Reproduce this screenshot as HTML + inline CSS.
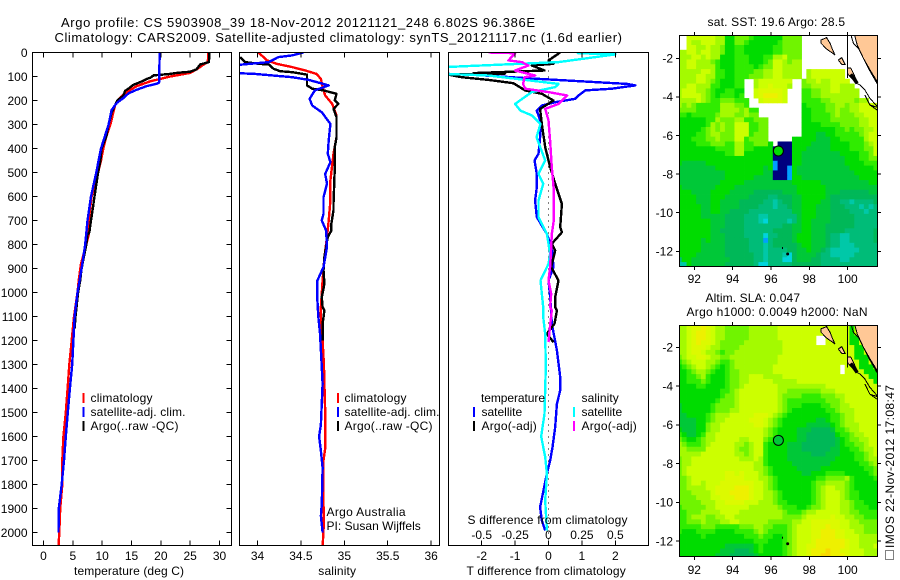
<!DOCTYPE html>
<html lang="en">
<head>
<meta charset="utf-8">
<title>Argo profile CS 5903908_39</title>
<style>
html,body{margin:0;padding:0;background:#fff;width:900px;height:580px;overflow:hidden}
svg{display:block}
text{font-family:"Liberation Sans",Arial,sans-serif;font-size:12px;fill:#000}
.ttl{font-size:13px}
</style>
</head>
<body>
<svg id="fig" xmlns="http://www.w3.org/2000/svg" width="900" height="580" viewBox="0 0 900 580">
<defs>
<clipPath id="clipTemp"><rect x="32.5" y="52.5" width="199" height="493"/></clipPath>
<clipPath id="clipSal"><rect x="239.5" y="52.5" width="200" height="493"/></clipPath>
<clipPath id="clipDiff"><rect x="448.5" y="52.5" width="200" height="493"/></clipPath>
<clipPath id="clipSst"><rect x="679.5" y="35.5" width="198" height="231"/></clipPath>
<clipPath id="clipSla"><rect x="679.5" y="325.5" width="198" height="231"/></clipPath>
</defs>
<text class="ttl" x="61" y="27" textLength="474">Argo profile: CS 5903908_39 18-Nov-2012 20121121_248 6.802S 96.386E</text>
<text class="ttl" x="54.5" y="42" textLength="567.5">Climatology: CARS2009. Satellite-adjusted climatology: synTS_20121117.nc (1.6d earlier)</text>

<g id="mapSst"></g>
<g id="mapSla"></g>
<g id="panelTemp"></g>
<g id="panelSal"></g>
<g id="panelDiff"></g>

<g>
<rect x="82.5" y="393" width="2" height="10" fill="#f00"/>
<rect x="82.5" y="407" width="2" height="10" fill="#00f"/>
<rect x="82.5" y="421" width="2" height="10" fill="#000"/>
<text x="90.5" y="402" textLength="62">climatology</text>
<text x="90.5" y="416" textLength="95">satellite-adj. clim.</text>
<text x="90.5" y="430" textLength="88">Argo(..raw -QC)</text>
</g>
<g>
<rect x="337" y="393" width="2" height="10" fill="#f00"/>
<rect x="337" y="407" width="2" height="10" fill="#00f"/>
<rect x="337" y="421" width="2" height="10" fill="#000"/>
<text x="344.5" y="402" textLength="62">climatology</text>
<text x="344.5" y="416" textLength="95">satellite-adj. clim.</text>
<text x="344.5" y="430" textLength="88">Argo(..raw -QC)</text>
<text x="326.5" y="516" textLength="79">Argo Australia</text>
<text x="326.5" y="530" textLength="94.3">PI: Susan Wijffels</text>
</g>
<g>
<text x="481" y="402" textLength="64">temperature</text>
<rect x="473" y="407" width="2" height="10" fill="#00f"/>
<rect x="473" y="421" width="2" height="10" fill="#000"/>
<text x="481.5" y="416" textLength="40.7">satellite</text>
<text x="481.5" y="430" textLength="55.3">Argo(-adj)</text>
<text x="581.5" y="402" textLength="37.3">salinity</text>
<rect x="573" y="407" width="2" height="10" fill="#0ff"/>
<rect x="573" y="421" width="2" height="10" fill="#f0f"/>
<text x="581.5" y="416" textLength="40.7">satellite</text>
<text x="581.5" y="430" textLength="55.3">Argo(-adj)</text>
<text x="467.5" y="524" textLength="160">S difference from climatology</text>
<text x="466.5" y="575" textLength="159.3">T difference from climatology</text>
</g>
<text x="74" y="575" textLength="110">temperature (deg C)</text>
<text x="318.3" y="575" textLength="37.7">salinity</text>

<text x="707.5" y="26" textLength="137.5">sat. SST: 19.6 Argo: 28.5</text>
<text x="705.5" y="302" textLength="94.5">Altim. SLA: 0.047</text>
<text x="686.5" y="316" textLength="181">Argo h1000: 0.0049 h2000: NaN</text>

<rect x="885.5" y="550.5" width="8" height="9" fill="none" stroke="#000" stroke-width="1" stroke-dasharray="1 1"/>
<text transform="translate(894 548) rotate(-90)" x="0" y="0" textLength="163">IMOS 22-Nov-2012 17:08:47</text>
</svg>

<script>
// ---------- tick values ----------
const depthTicks = [0,100,200,300,400,500,600,700,800,900,1000,1100,1200,1300,1400,1500,1600,1700,1800,1900,2000];
const tempTicks = [0,5,10,15,20,25,30];
const salTicks = [34,34.5,35,35.5,36];
const tDiffTicks = [-2,-1,0,1,2];
const sDiffTicks = [-0.5,-0.25,0,0.25,0.5];
const lonTicks = [92,94,96,98,100];
const latTicks = [-2,-4,-6,-8,-10,-12];

// ---------- temperature panel ----------
const climTempDepth = [0,40,50,70,85,100,110,120,140,160,180,200,220,250,300,350,400,450,500,600,700,760,800,880,950,1000,1100,1200,1300,1400,1500,1600,1700,1800,1900,2000,2060];
const climTemp = [28.1,28,27.3,26.1,25,21.6,19.9,18.2,15.9,14.5,13.4,12.6,12.2,11.9,11.4,10.7,10.2,9.8,9.3,8.2,7.7,7.7,7.3,6.4,6,5.8,5.2,4.8,4.4,4.1,3.8,3.4,3.2,3.2,2.85,2.7,2.55];
const argoTempDepth = [0,40,50,70,80,85,90,95,105,110,120,135,150,160,180,200,220,250,300,350,400,450,500,550,600,650,700,750,760,800,900,950,1000,1100,1150];
const argoTemp = [28.3,28.2,26.7,26.1,25,22.7,21.3,18.8,18.2,17.6,16.8,15.3,14.5,13.9,13.6,12.6,12.2,11.6,11.1,10.7,9.9,9.7,9.3,9,8.7,8.4,8.1,7.8,7.5,7.3,6.5,6.25,5.9,5.45,5.3];
const satTempDepth = [0,125,130,140,155,170,190,210,240,300,400,450,500,600,700,800,900,1000,1100,1200,1300,1400,1500,1600,1700,1800,1900,2000];
const satTemp = [19.8,19.7,19.3,17.6,15.9,14.5,13.6,12.5,11.6,11.1,9.8,9.4,9,8.1,7.5,7.1,6.5,5.8,5.3,5.1,4.9,4.5,4.15,3.8,3.5,3.1,2.6,2.55];

// ---------- salinity panel ----------
const climSalDepth = [0,33,47,61,75,89,110,144,179,214,262,353,422,533,617,700,769,853,950,1061,1100,1200,1300,1500,1650,1700,1880,1960,2060];
const climSal = [34.01,34.11,34.22,34.4,34.55,34.68,34.73,34.75,34.78,34.86,34.91,34.91,34.875,34.84,34.84,34.82,34.8,34.77,34.75,34.73,34.73,34.75,34.765,34.78,34.78,34.76,34.76,34.765,34.75];
const argoSalDepth = [19,40,47,50,68,78,82,92,137,151,158,172,200,214,235,269,353,394,478,630,658,714,742,769,785,853,908,964,1019,1061,1075,1130,1200];
const argoSal = [33.8,33.86,34.01,34.13,34.185,34.26,34.4,34.57,34.57,34.63,34.76,34.91,34.89,34.93,34.875,34.91,34.91,34.89,34.89,34.875,34.875,34.85,34.85,34.81,34.8,34.77,34.76,34.77,34.74,34.75,34.77,34.75,34.75];
const satSalDepth = [0,12,19,40,54,85,89,103,114,137,158,193,221,249,297,367,422,457,506,547,603,672,700,742,811,894,950,1033,1100,1170,1240,1380,1550,1600,1660,1730,1880,1930,2000];
const satSal = [34.53,34.4,34.24,34.13,33.7,33.7,33.97,34.4,34.59,34.82,34.66,34.6,34.63,34.74,34.84,34.82,34.81,34.84,34.78,34.8,34.76,34.76,34.74,34.79,34.8,34.76,34.69,34.69,34.7,34.72,34.73,34.75,34.73,34.71,34.73,34.75,34.74,34.73,34.75];

// ---------- difference panel ----------
const satTDiffDepth = [89,94,107,124,131,137,151,158,179,193,207,221,242,283,353,422,450,506,561,617,686,721,756,811,894,950,1019,1130,1241,1352,1408,1464,1561,1644,1700,1756,1825,1894,1950,1992];
const satTDiff = [-3,-2.1,-0.65,1.5,2.35,2.6,1.9,1.1,0.9,0.8,0.2,-0.2,-0.35,-0.25,-0.25,-0.3,-0.42,-0.35,-0.35,-0.4,-0.35,-0.2,-0.05,0.1,0.15,0,0.05,0.1,0.25,0.35,0.35,0.25,0.2,0.12,0.05,-0.05,-0.15,-0.25,-0.2,-0.1];
const argoTDiffDepth = [0,33,47,54,75,86,88,92,103,114,128,158,172,200,235,297,394,478,547,631,728,749,797,825,894,950,1019,1061,1075,1130,1172,1207];
const argoTDiff = [0.35,0,0.15,-0.5,-0.12,-2.25,-1.3,-3,-2.6,-1.8,-1.05,-0.7,-0.2,0.15,-0.25,-0.2,-0.1,0.05,0.2,0.4,0.35,0.4,0.1,0.2,0.08,0.3,0.2,0.2,0.25,0.18,-0.05,0.15];
const satSDiffDepth = [0,3,8,40,61,89,96,131,144,165,214,242,262,297,353,450,506,547,617,686,756,839,881,950,1061,1102,1172,1311,1505,1600,1686,1756,1867,1992];
const satSDiff = [0.51,0.22,0.5,0.075,-0.78,-0.78,-0.45,0.075,0.05,-0.125,-0.25,-0.21,-0.125,-0.06,-0.09,-0.025,-0.075,-0.04,-0.075,-0.075,-0.012,0.012,0,-0.06,-0.04,-0.04,-0.025,-0.02,-0.03,-0.055,-0.025,-0.012,-0.025,-0.012];
const argoSDiffDepth = [0,3,33,40,54,75,96,103,131,151,165,179,214,235,283,367,478,575,700,756,811,894,950,1006,1061,1075,1137,1207];
const argoSDiff = [-0.45,-0.25,-0.3,-0.2,-0.15,-0.25,-0.1,-0.18,-0.19,-0.175,0,0.14,0.075,-0.025,0,0.012,0.025,0.04,0.04,0.025,0.02,0.012,0,0.02,0.012,0.025,0.012,0];

// ---------- maps: one character per 0.25 degree cell (0-9,a-e = level, . = no data) ----------
const sstRows = [
"..bbbb bbaa77 999877 777799 99.... ...... ......",
"..baab bbaa77 998777 777899 99.... ...... ......",
"..bbaa baa977 887777 778899 99.... ...... ......",
"aabbab baa977 887777 778899 99.... ...... ......",
"aaabba baa777 888777 88aab9 99.... ...... ......",
"aabbaa a98777 888777 89bba9 aa.... ...... ......",
"aabbaa aa8777 888878 99bbaa aa.... ...... ......",
"aaaaab ba8877 888899 aabbaa aa.abb bbbbb. ......",
"aaaabb aa8877 888999 aabbaa aa.abb bbbbb. ......",
"aaaabb a98777 88..ab bbbbbb ..9aab aabbbb ......",
"aabbaa a88777 88..ab bcbbba ..99aa aabbaa a.....",
"abbbaa 987788 77..bc ccccb. ..8899 aabbaa aa....",
"abbbba 987888 78..bc dddcb. ..8899 aaaaaa aa....",
"aaaaba 988999 888..b ccccb. ..8888 99aaaa a9aa..",
"a9a988 888aaa 998... ...... ..7888 899aa9 aabbbb",
"999988 888aaa a9a88. ...... ..7788 899a99 aabbbb",
"887888 889aaa 99a99. ...... ..7788 889a99 9aabbb",
"777777 88a999 aa8899 9..... ..7788 889999 99aabb",
"777777 8a9a99 bbb889 9..... ..7777 888899 99aabb",
"777778 9a9a99 bbb889 9..... ..7777 777889 899aab",
"777788 9aa999 bbb899 9..... ..7776 677888 889abb",
"777888 99a999 bb8999 9..... 777776 667788 888abb",
"777788 899988 aa8899 97.000 777766 667777 8889ab",
"777777 778888 aa8877 770000 777666 667777 88899b",
"777777 777788 aa7777 770000 776666 666677 77889b",
"777777 777777 777777 770000 776666 666667 778899",
"766666 777777 777777 771000 776666 666667 777888",
"666666 667777 777777 671001 766666 666666 777778",
"666666 666677 777777 660001 766666 666666 677777",
"666666 666677 777766 660001 776666 666666 667777",
"666666 666777 776666 666666 777777 666666 666677",
"766666 667777 666666 666666 677777 766666 666666",
"777666 677776 666655 555566 677777 766655 555566",
"777766 677766 666555 544555 667777 765555 555555",
"777766 677666 655555 443455 667777 665544 344445",
"777776 677666 655554 443445 667776 665554 443434",
"777776 677665 555444 444444 667776 665555 444344",
"777776 666655 554443 344444 467776 665555 544444",
"777777 766655 554443 244443 467766 665555 544444",
"777777 766655 554444 444455 667766 655555 544444",
"777777 766555 554444 445555 667766 655554 444445",
"777777 766655 554444 244555 677766 654433 444445",
"777776 766655 555444 145555 677766 654433 444445",
"777776 666655 555444 345555 567766 654433 344444",
"777776 666655 555444 344445 566766 543333 334444",
"777766 666655 555544 344432 566665 443333 344444",
"477666 666665 555544 344422 566655 444433 444444",
"337666 666655 555542 244444 555555 444444 444444"
];
const slaRows = [
"aabccd cbaa99 999aaa aaabbb bbbbbb bbbbbb 7bbbbb",
"aabcdd cbaa99 999aaa aaabbb bbbbbb bbbbbb 7bbbbb",
"aabcdd cbaa99 999aaa aaabbb bbbbb. .bbbbb 77bbbb",
"aabcdc cba999 99aaaa aaaabb bbbbb. .bbbbb 77bbbb",
"aabccc baa999 9aaaaa aaaabb bbbbbb bbbbbb b77bbb",
"aabccb aa9899 aaaaaa aaaabb bbbbbb bbbbbb b77bbb",
"9abbcc baa99a aaaaaa aaabbb bbbbbb bbbbbb b777bb",
"89abbb aa9889 aaaaaa aaabbb bbbbbb bbbbbb bb77bb",
"789abb a98789 aaaaaa aabbbb bbbbbb bbbb.b bb777b",
"7789aa 987789 9aaaaa aabbbb bbbbbb bbbb.b bbb777",
"77889a 877789 9aabbb aaaabb bbbbbb bbbbbb bbbb77",
"778889 877789 9aabbb bbaaaa abbbbb bbbbbb bbbbb7",
"777788 777789 9abbbb bbbaaa aaaaaa abbbbb bbbbbb",
"777777 777889 abbbbb bbbaa9 999999 aaabbb bbbbbb",
"777777 777899 abbbbb bbba99 998888 999aab bbbbbb",
"777777 778999 abbbbb bbba98 888888 8999ab bbbbbb",
"677777 789999 abbbbb bbba98 887777 8899aa bbbbbb",
"677777 78999a abbbbb bbba98 777777 7889aa abbbbb",
"667777 89aaab bbbbcc cba987 777777 77889a abbbbb",
"666677 89aabb bbbccc ba9877 777776 67889a abbbbb",
"666677 9aabbb bbbbcc ba9877 777666 66789a aabbbb",
"766677 9aabbb bbbbbb a98777 766655 556889 aabbbb",
"876678 aabbbb bbbbbb a98777 766555 555788 9aabbb",
"987789 aabbbb baabbb 987777 766555 555678 99aabb",
"a98889 abbbbb aa9abb 877776 665555 555678 899abb",
"aa9999 bbbbbb a99abb 877776 665555 556677 889aab",
"aaaaab bbbbbb aa9abb 877776 666655 566677 7889ab",
"9aabbb bbbbbb baaaba 877776 666666 666777 7889aa",
"9aabbb bbbbbb bbbbaa 877777 666666 667777 77889a",
"9abbbb bbbbbb bbbbaa 987777 766666 777777 777889",
"9abbbb bbbbcc bcbbba 987777 776677 788887 777789",
"99abbb bbbbcc ccbbba a98777 777778 89999a 877778",
"99abba bbbccc ccccbb a98777 777789 9aaaa9 877777",
"99aaaa bbcccc dddcbb a98777 777789 abbaa9 877777",
"999aaa abcccd dddcbb aa9877 777789 abbba9 887777",
"9999aa abbccc dddcbb aa9877 777789 abbba9 887777",
"99999a aabbcc ccbbba aa9887 777789 abbbaa 988777",
"899999 aabbbb bbbaaa aaa988 877899 abbbaa 988877",
"88999a aaabbb baaaaa aaaa98 889aab bbbbaa 998888",
"889aaa 99aabb aaaaaa aaaa99 99abbb bbcbba a99888",
"88999a 999aab baaaaa a99999 aabbcc ccccbb aa9999",
"888889 998888 8999aa 998889 abbbcc cdccbb aaa999",
"877788 887777 88889a 988889 abbbcc dddccb baa999",
"777778 777777 778889 887789 abbbcc dddccb bbaaaa",
"777777 777777 777788 877789 abbbcd dddddc bbaaaa",
"777777 777766 666678 777789 abbccd dddddc bbaaab",
"777777 777666 555678 777789 abbcdd deddcc bbbaaa",
"777777 776665 555567 777789 abbcdd eedddc bbbaaa"
];
const levelColors = ["#00007f","#00a0ff","#00d4dc","#00c8a8","#00bc78","#00b858","#00c838","#00dc00","#30ec00","#70f400","#a4fa00","#ccff00","#dcfa00","#eef000","#f8d800"];

// ---------- coast geometry, degrees ----------
const landLon = [100.35,101.6,101.6,101.17,100.82,100.5];
const landLat = [-0.75,-0.75,-3.3,-2.61,-2,-1.31];
const coastOuterLon = [100.16,100.3,100.56,100.82,101.08,101.6];
const coastOuterLat = [-0.75,-1.22,-1.48,-2,-2.52,-3.42];
const coastLoopLon = [100.38,100.64,100.9,101.16,101.6,101.16,100.9];
const coastLoopLat = [-3.25,-3.38,-3.64,-4.07,-4.56,-4.42,-3.9];
const coastLoop2Lon = [101.16,101.6];
const coastLoop2Lat = [-4.42,-4.72];
const island1Lon = [98.61,98.9,99.08,99.22,99.34,99.22,98.9,98.61];
const island1Lat = [-1.05,-0.93,-1.22,-1.57,-1.83,-1.74,-1.52,-1.22];
const island2Lon = [99.51,99.69,99.86,99.69];
const island2Lat = [-2.09,-1.97,-2.31,-2.31];
const island3Lon = [99.98,100.16,100.3,100.5,100.21,99.98];
const island3Lat = [-2.52,-2.49,-2.78,-3.21,-3.04,-2.78];
const blobLon = [100.16,100.5];
const blobLat = [-2.83,-3.3];
const meridianLon = [100,100];
const meridianLat = [-0.75,-3.03];
const cocosLon = [96.87,96.6];
const cocosLat = [-12.14,-11.83];
const profileLon = 96.386;
const profileLat = -6.802;

// ---------- axis functions ----------
const yDepth = d => 52.5 + d * 0.24;
const xTemp = t => 43.5 + t * 5.867;
const xSal = s => 257.5 + (s - 34) * 86.83;
const xTDiff = t => 548.5 + t * 33.4;
const xSDiff = s => 548.5 + s * 133.6;
const xLon = lon => 694.3 + (lon - 92) * 19.17;
const ySst = lat => 58.3 - (lat + 2) * 19.3;
const ySla = lat => 347.3 - (lat + 2) * 19.37;

const NS = 'http://www.w3.org/2000/svg';
function mk(tag, parent, attrs) {
  const el = document.createElementNS(NS, tag);
  for (const k in attrs) el.setAttribute(k, attrs[k]);
  parent.appendChild(el);
  return el;
}
function line(parent, x1, y1, x2, y2) {
  const el = mk('line', parent, {x1: x1, y1: y1, x2: x2, y2: y2, stroke: '#000', 'stroke-width': 1, 'shape-rendering': 'crispEdges'});
  
  
  return el;
}
function label(parent, x, y, str, anchor) {
  const el = mk('text', parent, {x: x, y: y, 'text-anchor': anchor});
  el.textContent = str;
  
  
  return el;
}
function frame(parent, x, y, w, h) {
  const el = mk('rect', parent, {x: x, y: y, width: w, height: h, fill: 'none', stroke: '#000', 'stroke-width': 1.2, 'shape-rendering': 'crispEdges'});
  
  
  return el;
}
function series(parent, xScale, xs, depths, color, name) {
  const pts = xs.map((v, i) => xScale(v).toFixed(1) + ',' + yDepth(depths[i]).toFixed(1)).join(' ');
  const el = mk('polyline', parent, {points: pts, fill: 'none', stroke: color, 'stroke-width': 2.4, 'stroke-linejoin': 'round', 'shape-rendering': 'crispEdges'});
  
  
  return el;
}
function clipGroup(parent, clip) {
  const el = mk('g', parent, {'clip-path': 'url(#' + clip + ')'});
  
  
  return el;
}

// ---------- temperature panel ----------
const pT = document.getElementById('panelTemp');
const gT = clipGroup(pT, 'clipTemp');
series(gT, xTemp, climTemp, climTempDepth, '#f00', 'temperature-climatology-line');
series(gT, xTemp, argoTemp, argoTempDepth, '#000', 'temperature-argo-line');
series(gT, xTemp, satTemp, satTempDepth, '#00f', 'temperature-satellite-line');
frame(pT, 32.5, 52.5, 199, 493);
depthTicks.forEach(d => {
  line(pT, 32.5, yDepth(d), 37.5, yDepth(d));
  line(pT, 226.5, yDepth(d), 231.5, yDepth(d));
  label(pT, 27.5, yDepth(d) + 4.3, String(d), 'end');
});
tempTicks.forEach(t => {
  line(pT, xTemp(t), 52.5, xTemp(t), 57.5);
  line(pT, xTemp(t), 540.5, xTemp(t), 545.5);
  label(pT, xTemp(t), 560, String(t), 'middle');
});

// ---------- salinity panel ----------
const pS = document.getElementById('panelSal');
const gS = clipGroup(pS, 'clipSal');
series(gS, xSal, climSal, climSalDepth, '#f00', 'salinity-climatology-line');
series(gS, xSal, argoSal, argoSalDepth, '#000', 'salinity-argo-line');
series(gS, xSal, satSal, satSalDepth, '#00f', 'salinity-satellite-line');
frame(pS, 239.5, 52.5, 200, 493);
salTicks.forEach(s => {
  line(pS, xSal(s), 52.5, xSal(s), 57.5);
  line(pS, xSal(s), 540.5, xSal(s), 545.5);
  label(pS, xSal(s), 560, String(s), 'middle');
});

// ---------- difference panel ----------
const pD = document.getElementById('panelDiff');
const gD = clipGroup(pD, 'clipDiff');
const zeroLine = mk('line', gD, {x1: xTDiff(0), x2: xTDiff(0), y1: yDepth(0), y2: yDepth(2060), stroke: '#000', 'stroke-width': 1, 'stroke-dasharray': '1 5', 'shape-rendering': 'crispEdges'});


series(gD, xTDiff, satTDiff, satTDiffDepth, '#00f', 't-difference-satellite-line');
series(gD, xTDiff, argoTDiff, argoTDiffDepth, '#000', 't-difference-argo-line');
series(gD, xSDiff, satSDiff, satSDiffDepth, '#0ff', 's-difference-satellite-line');
series(gD, xSDiff, argoSDiff, argoSDiffDepth, '#f0f', 's-difference-argo-line');
frame(pD, 448.5, 52.5, 200, 493);
tDiffTicks.forEach(t => {
  line(pD, xTDiff(t), 52.5, xTDiff(t), 57.5);
  line(pD, xTDiff(t), 540.5, xTDiff(t), 545.5);
  label(pD, xTDiff(t), 560, String(t), 'middle');
});
sDiffTicks.forEach(s => {
  label(pD, xSDiff(s), 539, String(s), 'middle');
});

// ---------- maps ----------
function coastShape(parent, tag, lons, lats, yMap, styles, name) {
  const pts = lons.map((v, i) => xLon(v).toFixed(1) + ',' + yMap(lats[i]).toFixed(1)).join(' ');
  const el = mk(tag, parent, Object.assign({points: pts}, styles));
  
  
  return el;
}
function drawMap(id, rows, clip, yMap, top, bottom, latTop, labelY, markerFill) {
  const root = document.getElementById(id);
  const plot = clipGroup(root, clip);
  const cellLon = 0.25, cellLat = 0.25, lonFirst = 91.22;
  rows.forEach((row, r) => {
    const chars = row.replace(/ /g, '');
    for (let c = 0; c < chars.length; c++) {
      const lv = parseInt(chars[c], 16);
      if (isNaN(lv)) continue;
      const lon = lonFirst + c * cellLon;
      const lat = latTop - r * cellLat;
      const x0 = xLon(lon - cellLon / 2), x1 = xLon(lon + cellLon / 2);
      const y0 = yMap(lat), y1 = yMap(lat - cellLat);
      const cell = mk('rect', plot, {x: x0.toFixed(2), y: y0.toFixed(2), width: (x1 - x0 + 0.4).toFixed(2), height: (y1 - y0 + 0.4).toFixed(2), fill: levelColors[lv]});
      
      
    }
  });
  const landStyle = {fill: '#ffc896', stroke: '#000', 'stroke-width': 1, 'shape-rendering': 'crispEdges'};
  const lineStyle = {fill: 'none', stroke: '#000', 'stroke-width': 1, 'shape-rendering': 'crispEdges'};
  coastShape(plot, 'polygon', landLon, landLat, yMap, landStyle, 'sumatra-land');
  coastShape(plot, 'polyline', coastOuterLon, coastOuterLat, yMap, lineStyle, 'coast-outline');
  coastShape(plot, 'polyline', coastLoopLon, coastLoopLat, yMap, lineStyle, 'coast-loop');
  coastShape(plot, 'polyline', coastLoop2Lon, coastLoop2Lat, yMap, lineStyle, 'coast-loop');
  coastShape(plot, 'polygon', island1Lon, island1Lat, yMap, landStyle, 'island');
  coastShape(plot, 'polygon', island2Lon, island2Lat, yMap, landStyle, 'island');
  coastShape(plot, 'polygon', island3Lon, island3Lat, yMap, landStyle, 'island');
  coastShape(plot, 'polyline', blobLon, blobLat, yMap, {fill: 'none', stroke: '#000', 'stroke-width': 3.5}, 'island-shoal');
  coastShape(plot, 'polyline', meridianLon, meridianLat, yMap, lineStyle, 'meridian-line');
  const c1 = mk('circle', plot, {cx: xLon(cocosLon[0]), cy: yMap(cocosLat[0]), r: 1.5, fill: '#000'});
  
  
  const c2 = mk('rect', plot, {x: xLon(cocosLon[1]) - 0.5, y: yMap(cocosLat[1]) - 1, width: 1, height: 2, fill: '#000'});
  
  
  const marker = mk('circle', plot, {cx: xLon(profileLon), cy: yMap(profileLat), r: 5, fill: markerFill, stroke: '#000', 'stroke-width': 1});
  
  
  frame(root, 679.5, top, 198, bottom - top);
  lonTicks.forEach(lon => {
    line(root, xLon(lon), top - 3.5, xLon(lon), top);
    line(root, xLon(lon), bottom, xLon(lon), bottom + 3.5);
    label(root, xLon(lon), labelY, String(lon), 'middle');
  });
  latTicks.forEach(lat => {
    line(root, 676, yMap(lat), 679.5, yMap(lat));
    line(root, 877.5, yMap(lat), 881, yMap(lat));
    label(root, 673, yMap(lat) + 4.3, String(lat), 'end');
  });
}
drawMap('mapSst', sstRows, 'clipSst', ySst, 35.5, 266.5, -0.81, 283, '#00dc00');
drawMap('mapSla', slaRows, 'clipSla', ySla, 325.5, 556.5, -0.885, 574, '#00c838');
</script>
</body>
</html>
